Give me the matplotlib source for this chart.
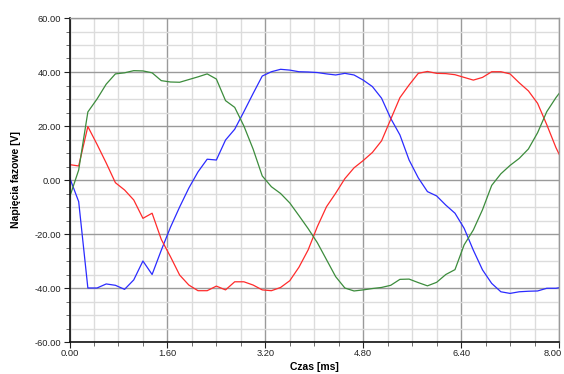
import numpy as np
import matplotlib
matplotlib.use("Agg")
import matplotlib.pyplot as plt
from matplotlib.ticker import MultipleLocator, FormatStrFormatter
from matplotlib.transforms import ScaledTranslation

# sampling grid of the scope trace (ms), 0.15 ms step
czas = np.round(np.arange(55) * 0.15, 2)

faza_a = [1.0, -8.0, -40.0, -40.0, -38.5, -39.0, -40.5, -37.0, -30.0, -35.0,
          -26.0, -17.5, -10.0, -3.0, 3.0, 7.7, 7.4, 14.8, 18.8, 25.3,
          32.0, 38.5, 40.1, 41.0, 40.7, 40.1, 40.0, 39.8, 39.3, 38.9,
          39.5, 38.9, 37.0, 34.6, 30.3, 22.8, 16.7, 7.4, 0.8, -4.3,
          -5.9, -9.3, -12.3, -17.9, -26.0, -33.3, -38.3, -41.4, -42.0, -41.4,
          -41.2, -41.1, -40.1, -40.1, -39.5]

faza_b = [5.7, 5.2, 19.8, 13.2, 6.3, -1.0, -3.7, -7.4, -14.2, -12.3,
          -22.0, -28.4, -35.2, -38.9, -41.0, -41.0, -39.3, -40.7, -37.7, -37.7,
          -38.9, -40.7, -41.0, -39.8, -37.3, -32.3, -25.9, -17.3, -9.9, -4.9,
          0.5, 4.5, 7.2, 10.2, 14.5, 22.5, 30.5, 35.2, 39.5, 40.2,
          39.5, 39.4, 39.0, 38.0, 37.0, 38.0, 40.1, 40.1, 39.3, 36.0,
          33.0, 28.4, 20.5, 12.0, 5.0]

faza_c = [-6.5, 3.7, 25.2, 30.0, 35.5, 39.3, 39.7, 40.5, 40.4, 39.7,
          36.8, 36.3, 36.2, 37.2, 38.2, 39.3, 37.4, 29.4, 26.9, 20.0,
          11.5, 1.5, -2.5, -5.0, -8.5, -13.2, -18.0, -23.2, -29.5, -35.8,
          -40.0, -41.1, -40.7, -40.2, -39.8, -39.0, -36.8, -36.7, -38.0, -39.2,
          -37.9, -35.0, -33.2, -24.0, -18.5, -11.0, -2.0, 2.3, 5.4, 8.0,
          11.5, 17.5, 25.3, 30.5, 35.0]

plt.rcParams['font.family'] = ['Liberation Sans', 'DejaVu Sans']

fig = plt.figure(figsize=(5.64, 3.74), dpi=100)
ax = fig.add_axes([69.5 / 564, 1 - 342 / 374, (559 - 69.5) / 564, (342 - 18) / 374])

ax.plot(czas, faza_a, color='#2b2bff', lw=0.9)
ax.plot(czas, faza_b, color='#ff2b2b', lw=0.9)
ax.plot(czas, faza_c, color='#3c8c3c', lw=0.9)

ax.set_xlim(0, 8)
ax.set_ylim(-60, 60)
ax.xaxis.set_major_locator(MultipleLocator(1.6))
ax.xaxis.set_minor_locator(MultipleLocator(0.4))
ax.yaxis.set_major_locator(MultipleLocator(20))
ax.yaxis.set_minor_locator(MultipleLocator(5))
ax.xaxis.set_major_formatter(FormatStrFormatter('%.2f'))
ax.yaxis.set_major_formatter(FormatStrFormatter('%.2f'))

ax.grid(which='major', color='#9a9a9a', lw=1.0)
ax.grid(which='minor', color='#dcdcdc', lw=1.0)
ax.set_axisbelow(True)

ax.tick_params(which='both', direction='out', labelsize=6.7, colors='#222222')
ax.tick_params(which='major', length=4, width=0.8)
ax.tick_params(which='minor', length=3, width=0.6, color='#555555')
ax.tick_params(axis='x', pad=1)
ax.tick_params(axis='y', pad=2)

for side in ['top', 'right']:
    ax.spines[side].set_color('#9a9a9a')
    ax.spines[side].set_linewidth(1.0)
for side in ['left', 'bottom']:
    ax.spines[side].set_color('#111111')
    ax.spines[side].set_linewidth(1.2)

ax.set_xlabel('Czas [ms]', fontsize=7.5, fontweight='bold', labelpad=3)
ax.set_ylabel('Napięcia fazowe [V]', fontsize=7.5, fontweight='bold', labelpad=10)

# nudge the last x label left so it stays inside the picture
fig.canvas.draw()
last = [t for t in ax.xaxis.get_major_ticks() if abs(t.get_loc() - 8.0) < 1e-6][0]
last.label1.set_transform(last.label1.get_transform()
                          + ScaledTranslation(-6 / 100, 0, fig.dpi_scale_trans))

fig.savefig('out.png', dpi=100)
